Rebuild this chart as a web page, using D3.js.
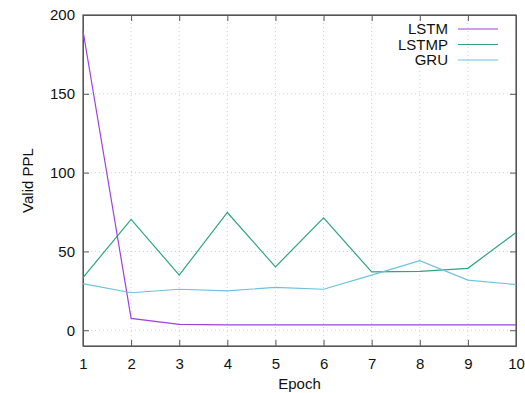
<!DOCTYPE html>
<html>
<head>
<meta charset="utf-8">
<title>Valid PPL</title>
<style>
  body { margin: 0; background: #fff; }
  text { font-family: "Liberation Sans", Arial, sans-serif; }
</style>
</head>
<body>
<script src="https://d3js.org/d3.v7.min.js"></script>
<script>
var epochs = [1, 2, 3, 4, 5, 6, 7, 8, 9, 10];
var lstm  = [190, 7.5, 3.7, 3.4, 3.4, 3.4, 3.4, 3.4, 3.4, 3.4];
var lstmp = [33.4, 70.3, 35, 74.7, 40.2, 71.3, 37, 37.3, 39.3, 62];
var gru   = [29.6, 23.8, 26, 25, 27.2, 26, 35, 44.2, 31.8, 29];
var yTicks = [0, 50, 100, 150, 200];

var series = [
  { name: "LSTM",  values: lstm,  color: "#a040e0" },
  { name: "LSTMP", values: lstmp, color: "#2ea57c" },
  { name: "GRU",   values: gru,   color: "#6cc2e0" }
];

var W = 525, H = 393;
var margin = { top: 15, right: 9, bottom: 47, left: 83 },
    width  = W - margin.left - margin.right,
    height = H - margin.top - margin.bottom;
var fs = 15;

var svg = d3.select("body").append("svg")
    .attr("width", W).attr("height", H);

var chart = svg.append("g")
    .attr("transform", "translate(" + margin.left + "," + margin.top + ")");

var x = d3.scaleLinear().domain([1, 10]).range([0, width]);
var y = d3.scaleLinear().domain([-10, 200]).range([height, 0]);

// grid
chart.append("g").selectAll("line.gx")
    .data(epochs.slice(1, -1)).enter().append("line")
    .attr("x1", function(d){ return x(d); }).attr("x2", function(d){ return x(d); })
    .attr("y1", 0).attr("y2", height)
    .attr("stroke", "#d0d0d0").attr("stroke-dasharray", "1,3");
chart.append("g").selectAll("line.gy")
    .data(yTicks).enter().append("line")
    .attr("x1", 0).attr("x2", width)
    .attr("y1", function(d){ return y(d); }).attr("y2", function(d){ return y(d); })
    .attr("stroke", "#d0d0d0").attr("stroke-dasharray", "1,3");

// axes
var xAx = chart.append("g").attr("transform", "translate(0," + height + ")")
    .call(d3.axisBottom(x).tickValues(epochs).tickFormat(d3.format("d")).tickSizeInner(-6).tickSizeOuter(0).tickPadding(12));
var xAxTop = chart.append("g")
    .call(d3.axisTop(x).tickValues(epochs).tickFormat("").tickSizeInner(-6).tickSizeOuter(0));
var yAx = chart.append("g")
    .call(d3.axisLeft(y).tickValues(yTicks).tickSizeInner(-6).tickSizeOuter(0).tickPadding(8));
var yAxR = chart.append("g").attr("transform", "translate(" + width + ",0)")
    .call(d3.axisRight(y).tickValues(yTicks).tickFormat("").tickSizeInner(-6).tickSizeOuter(0));

[xAx, xAxTop, yAx, yAxR].forEach(function(a){
  a.selectAll("path, line").attr("stroke", "#555");
  a.selectAll("text").attr("font-size", fs).attr("fill", "#111")
    .attr("font-family", "'Liberation Sans', Arial, sans-serif");
});

// frame
chart.append("rect").attr("width", width).attr("height", height)
    .attr("fill", "none").attr("stroke", "#555").attr("stroke-width", 1.2);

// lines
var line = d3.line()
    .x(function(d, i){ return x(epochs[i]); })
    .y(function(d){ return y(d); });

chart.selectAll(".series").data(series).enter().append("path")
    .attr("class", "series")
    .attr("d", function(s){ return line(s.values); })
    .attr("fill", "none")
    .attr("stroke", function(s){ return s.color; })
    .attr("stroke-width", 1.2);

// legend
var leg = svg.append("g").selectAll("g").data(series).enter().append("g")
    .attr("transform", function(d, i){ return "translate(448," + (29 + i * 15.5) + ")"; });
leg.append("text").text(function(d){ return d.name; })
    .attr("text-anchor", "end").attr("dy", "0.35em")
    .attr("font-size", fs).attr("fill", "#111");
leg.append("line").attr("x1", 10).attr("x2", 50)
    .attr("stroke", function(d){ return d.color; }).attr("stroke-width", 1.2);

// axis titles
svg.append("text").text("Epoch")
    .attr("x", margin.left + width / 2).attr("y", 389)
    .attr("text-anchor", "middle").attr("font-size", fs).attr("fill", "#111");
svg.append("text").text("Valid PPL")
    .attr("transform", "translate(33," + (margin.top + height / 2) + ") rotate(-90)")
    .attr("text-anchor", "middle").attr("font-size", fs).attr("fill", "#111");
</script>
</body>
</html>
